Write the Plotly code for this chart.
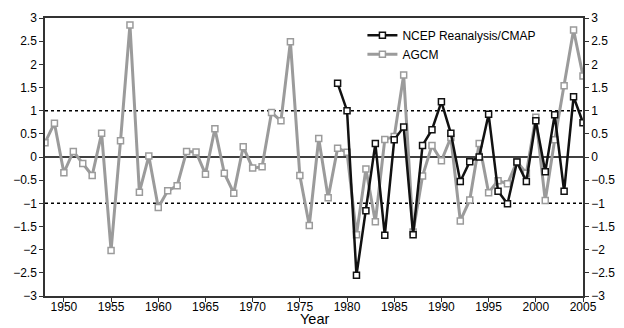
import plotly.graph_objects as go

years_agcm = list(range(1948, 2006))
agcm = [0.31, 0.73, -0.34, 0.12, -0.14, -0.40, 0.51, -2.02, 0.35, 2.85,
        -0.76, 0.02, -1.09, -0.73, -0.62, 0.12, 0.11, -0.37, 0.61, -0.35,
        -0.78, 0.22, -0.24, -0.21, 0.96, 0.78, 2.49, -0.40, -1.48, 0.40,
        -0.88, 0.19, 0.10, -1.68, -0.26, -1.40, 0.38, 0.44, 1.77, -1.62,
        -0.41, 0.25, -0.08, 0.42, -1.38, -0.93, 0.29, -0.77, -0.51, -0.58,
        -0.10, -0.35, 0.86, -0.94, 0.37, 1.54, 2.74, 1.75]

years_ncep = list(range(1979, 2006))
ncep = [1.59, 1.00, -2.55, -1.16, 0.29, -1.69, 0.37, 0.65, -1.68, 0.25,
        0.59, 1.19, 0.51, -0.53, -0.10, 0.00, 0.92, -0.74, -1.01, -0.11,
        -0.53, 0.78, -0.32, 0.91, -0.74, 1.30, 0.74]

x_ticks = [1950, 1955, 1960, 1965, 1970, 1975, 1980, 1985, 1990, 1995, 2000, 2005]
y_ticks = [-3, -2.5, -2, -1.5, -1, -0.5, 0, 0.5, 1, 1.5, 2, 2.5, 3]
ref_lines = [-1, 1]

GRAY = "#9b9b9b"
BLACK = "#111111"
FONT = "Liberation Sans, Arial, sans-serif"

fig = go.Figure()
fig.add_trace(go.Scatter(
    x=years_agcm, y=agcm, mode="lines+markers", name="AGCM",
    line=dict(color=GRAY, width=3),
    marker=dict(symbol="square", size=6, color="white", line=dict(color=GRAY, width=1.5)),
))
fig.add_trace(go.Scatter(
    x=years_ncep, y=ncep, mode="lines+markers", name="NCEP Reanalysis/CMAP",
    line=dict(color=BLACK, width=2.5),
    marker=dict(symbol="square", size=6, color="white", line=dict(color=BLACK, width=1.5)),
))
# invisible trace to carry right axis
fig.add_trace(go.Scatter(x=[years_agcm[0]], y=[0], yaxis="y2", mode="markers",
                         marker=dict(opacity=0), showlegend=False, hoverinfo="skip"))

fig.add_hline(y=0, line=dict(color="black", width=1.5), layer="below")
for r in ref_lines:
    fig.add_hline(y=r, line=dict(color="black", width=1.5, dash="3px,3px"), layer="below")

axis_common = dict(showgrid=False, zeroline=False, showline=True, linecolor="#333",
                   linewidth=1.5, ticks="outside", ticklen=4, tickcolor="#333",
                   automargin=False,
                   tickfont=dict(family=FONT, size=12, color="black"))

fig.add_annotation(text="Year", xref="paper", yref="paper", x=0.5, y=-0.114,
                   xanchor="center", yanchor="bottom", showarrow=False,
                   borderpad=0,
                   font=dict(family=FONT, size=14.5, color="black"))

fig.update_layout(
    width=624, height=328,
    margin=dict(l=45, r=41, t=18, b=32),
    plot_bgcolor="white", paper_bgcolor="white",
    font=dict(family=FONT, color="black"),
    xaxis=dict(range=[1948, 2005], tickvals=x_ticks, mirror=True,
               ticklabelstandoff=-5, **axis_common),
    yaxis=dict(range=[-3, 3], tickvals=y_ticks, **axis_common),
    yaxis2=dict(range=[-3, 3], tickvals=y_ticks, overlaying="y", side="right",
                **axis_common),
    legend=dict(x=0.59, y=0.99, xanchor="left", yanchor="top",
                traceorder="reversed", bgcolor="rgba(0,0,0,0)",
                font=dict(family=FONT, size=12), itemwidth=30,
                tracegroupgap=0),
    showlegend=True,
)

fig.write_html("out.html")
